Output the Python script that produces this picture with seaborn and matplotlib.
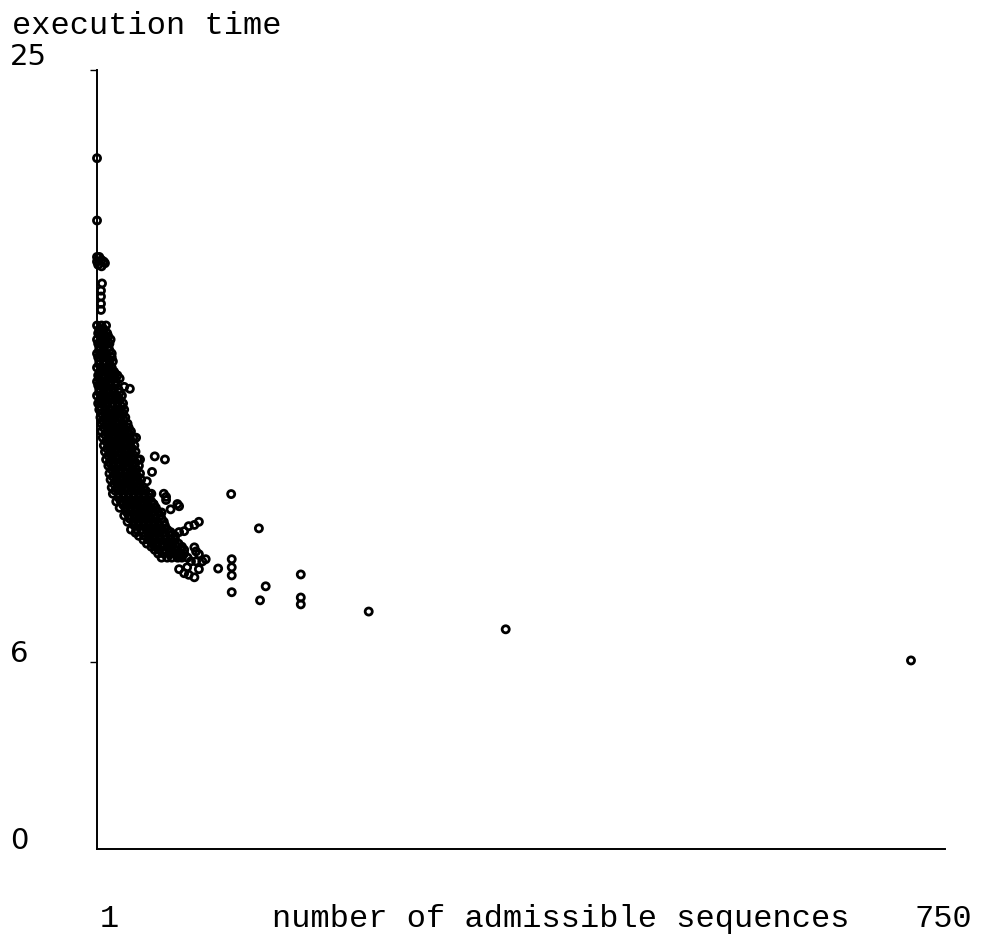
import matplotlib
matplotlib.use("Agg")
import matplotlib.pyplot as plt
import matplotlib.transforms as mtransforms
import seaborn as sns
import pandas as pd

# --------------------------------------
# Data
# (x = number of admissible sequences, y = execution time)
# --------------------------------------

# dense band: one execution time per row, the sequence counts in that row
band_times = [16.8, 16.55, 16.35, 16.1, 15.9, 15.65, 15.45, 15.2, 15.0, 14.75,
              14.55, 14.3, 14.1, 13.85, 13.65, 13.4, 13.2, 12.95, 12.75, 12.5,
              12.3, 12.05, 11.85, 11.6, 11.4, 11.15, 10.95, 10.7, 10.5, 10.25,
              10.05, 9.8, 9.6, 9.35]
band_counts = [
    [1, 5, 9],
    [2, 6, 10],
    [1, 5, 9, 13],
    [3, 7, 11],
    [1, 5, 9, 14],
    [3, 7, 12, 15],
    [1, 5, 10, 14],
    [2, 6, 11, 15, 19],
    [1, 5, 9, 13, 18],
    [3, 7, 11, 15, 20],
    [1, 5, 9, 14, 18, 23],
    [2, 6, 10, 15, 19, 24],
    [3, 8, 12, 17, 21, 25],
    [4, 8, 13, 17, 22, 26],
    [5, 9, 14, 18, 23, 28],
    [5, 10, 14, 19, 23, 28, 31],
    [6, 11, 15, 20, 24, 29, 33],
    [7, 12, 16, 21, 25, 30, 34],
    [8, 13, 17, 22, 26, 31, 35],
    [9, 14, 18, 23, 28, 32, 37],
    [11, 15, 20, 24, 29, 33, 38],
    [12, 17, 21, 26, 30, 35, 39],
    [13, 18, 22, 27, 31, 36, 40],
    [14, 19, 23, 28, 32, 37, 42],
    [15, 20, 24, 29, 34, 38, 43, 47],
    [18, 22, 27, 31, 36, 40, 45, 49],
    [21, 26, 30, 35, 39, 44, 48, 53],
    [25, 29, 34, 38, 43, 47, 52, 57],
    [28, 33, 37, 42, 46, 51, 55, 60],
    [31, 36, 40, 45, 49, 54, 58, 63],
    [38, 43, 47, 52, 56, 61, 66, 70],
    [45, 50, 54, 59, 63, 68, 73],
    [52, 56, 61, 65, 70, 75, 78],
    [58, 63, 67, 72, 76, 81],
]

# rows lying between the ones above (the band is solid black)
mid_times = [16.68, 16.45, 16.22, 16.0, 15.78, 15.55, 15.32, 15.1, 14.88, 14.65,
             14.42, 14.2, 13.97, 13.75, 13.52, 13.3, 13.08, 12.85, 12.62, 12.4,
             12.18, 11.95, 11.72, 11.5, 11.28, 11.05, 10.82, 10.6, 10.38, 10.15,
             9.92, 9.7, 9.48]
mid_counts = [
    [3, 7],
    [4, 8, 11],
    [2, 5, 9, 12],
    [3, 7, 12],
    [2, 6, 10, 14],
    [3, 7, 12],
    [4, 8, 12, 16],
    [3, 7, 11, 16],
    [2, 5, 9, 13, 17],
    [3, 7, 12, 16, 21],
    [4, 8, 12, 17, 21],
    [4, 9, 14, 19, 23],
    [5, 10, 15, 19, 24],
    [6, 11, 15, 20, 25],
    [7, 12, 16, 21, 25, 29],
    [8, 12, 17, 21, 26, 30],
    [9, 13, 18, 22, 27, 31],
    [10, 14, 19, 23, 28, 32],
    [11, 15, 20, 25, 29, 34],
    [12, 16, 21, 26, 30, 35],
    [14, 18, 22, 27, 32, 36],
    [15, 19, 24, 28, 33, 37],
    [16, 21, 25, 30, 34, 39],
    [17, 22, 26, 31, 35, 40, 44],
    [20, 25, 29, 33, 38, 42, 47],
    [24, 28, 33, 37, 42, 46, 51],
    [27, 31, 36, 41, 45, 50, 55],
    [30, 35, 40, 44, 49, 53, 58],
    [34, 38, 43, 47, 52, 56, 61],
    [35, 41, 46, 51, 56, 60, 65],
    [42, 47, 52, 57, 61, 66, 70],
    [49, 54, 58, 63, 67, 72, 76],
    [55, 60, 65, 69, 74, 78],
]

# single points near the axis at the top
top_counts = [1, 1, 1, 3, 5, 7, 2, 5, 8, 1, 5.4, 4.5, 4.5, 4.5, 4.5]
top_times = [22.17, 20.17, 19.0, 19.0, 18.9, 18.85, 18.75, 18.7, 18.8, 18.85,
             18.15, 17.92, 17.73, 17.5, 17.3]

# loose points around the band
fringe_counts = [12, 17, 21, 25, 30, 30, 35.5, 30, 39, 52, 61, 49.6, 45,
                 62, 60, 62, 72, 66, 58, 49, 51, 41, 73.5,
                 91, 87, 82, 78, 73.5, 66, 60, 54, 50,
                 49, 54, 60, 65, 71, 73.5,
                 73.5, 80.6, 88.5, 91, 87, 94, 97, 88.5, 87, 91, 82, 84, 78]
fringe_times = [15.25, 15.25, 15.1, 14.83, 14.77, 13.2, 13.2, 12.9, 12.5, 12.6, 12.5, 12.1, 11.8,
                11.3, 11.4, 11.2, 11.07, 10.9, 10.8, 11.4, 11.07, 11.07, 11.0,
                10.5, 10.4, 10.36, 10.2, 10.17, 10.17, 10.17, 10.17, 10.17,
                9.88, 9.72, 9.72, 9.68, 9.46, 9.36,
                8.98, 9.04, 9.23, 8.98, 8.72, 9.23, 9.3, 9.55, 9.68, 9.46, 8.8, 9.23, 8.85]

# the tail of large counts
tail_counts = [108, 119.5, 144, 120, 120, 120, 120, 150, 145, 181, 181, 181, 241, 362, 720]
tail_times = [9.0, 11.39, 10.29, 9.30, 9.04, 8.78, 8.24, 8.43, 7.98, 8.81, 8.07, 7.85,
              7.62, 7.05, 6.05]

y_tick_values = [0, 6, 25]

# build one table for seaborn
xs, ys = [], []
for t, row in list(zip(band_times, band_counts)) + list(zip(mid_times, mid_counts)):
    xs += row
    ys += [t] * len(row)
xs += top_counts + fringe_counts + tail_counts
ys += top_times + fringe_times + tail_times
df = pd.DataFrame({"sequences": xs, "time": ys})

# --------------------------------------
# Plot
# --------------------------------------
sns.set_theme(style="white")
plt.rcParams["font.family"] = ["DejaVu Sans"]

fig = plt.figure(figsize=(9.95, 9.41), dpi=100)
ax = fig.add_axes([0.0975, 0.0978, 0.8522, 0.8278])

sns.scatterplot(data=df, x="sequences", y="time", ax=ax, marker="o", s=26,
                facecolors="none", edgecolor="black", linewidth=2.0,
                clip_on=False, legend=False)

ax.set_xlim(1, 750)
ax.set_ylim(0, 25)
sns.despine(ax=ax)
for side in ["left", "bottom"]:
    ax.spines[side].set_color("black")
    ax.spines[side].set_linewidth(1.4)

ax.set_xticks([])
ax.set_yticks([6, 25])
ax.set_yticklabels([])
ax.tick_params(axis="y", left=True, length=5, width=1, color="black")
ax.set_xlabel("")
ax.set_ylabel("")

# y values written at the far left of the figure
trans = mtransforms.blended_transform_factory(fig.transFigure, ax.transData)
for v in y_tick_values:
    ypos = v + 0.15 if v == 25 else v
    ax.text(0.010, ypos, str(v), transform=trans, ha="left", va="baseline",
            fontsize=21, color="black")

mono = "Liberation Mono"
fig.text(0.012, 0.9635, "execution time", family=mono, fontsize=23,
         ha="left", va="baseline", color="black")
fig.text(0.1095, 0.0149, "1", family=mono, fontsize=23,
         ha="center", va="baseline", color="black")
fig.text(0.2734, 0.0149, "number of admissible sequences", family=mono, fontsize=23,
         ha="left", va="baseline", color="black")
fig.text(0.9477, 0.0149, "750", family=mono, fontsize=23,
         ha="center", va="baseline", color="black")

fig.savefig("out.png", dpi=100)
plt.close(fig)
